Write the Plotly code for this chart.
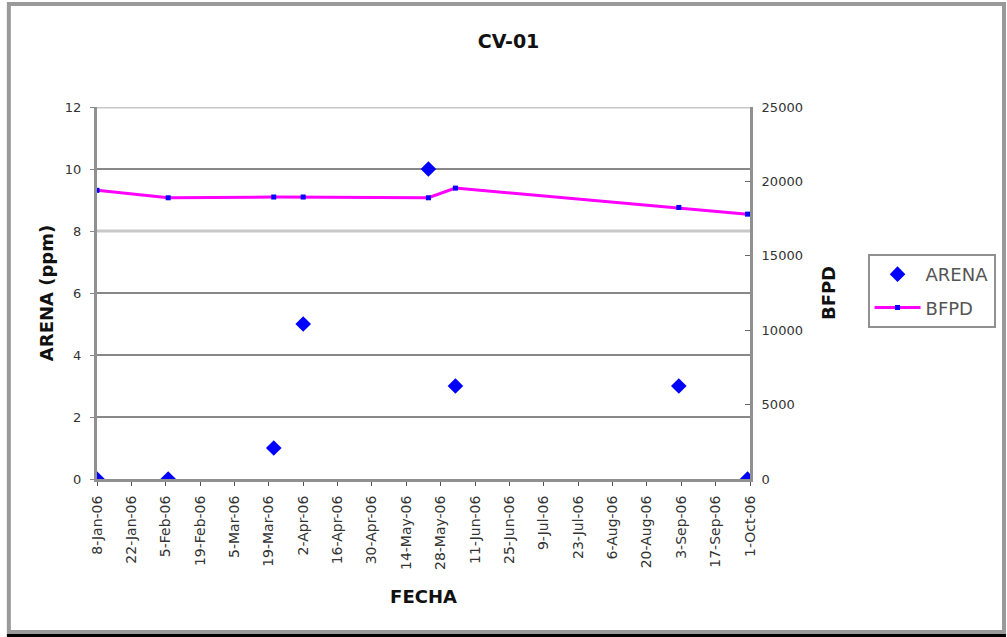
import plotly.graph_objects as go
import pandas as pd

fechas = ["2006-01-08", "2006-02-06", "2006-03-21", "2006-04-02",
          "2006-05-23", "2006-06-03", "2006-09-02", "2006-09-30"]
arena = [0, 0, 1, 5, 10, 3, 3, 0]
bfpd = [19400, 18900, 18950, 18950, 18900, 19550, 18250, 17800]

tick_dates = pd.date_range("2006-01-08", "2006-10-01", freq="14D")
tick_text = [f"{d.day}-{d.strftime('%b')}-06" for d in tick_dates]

font = "DejaVu Sans, sans-serif"
title_font = dict(family=font, size=18, color="#111", weight="bold")

fig = go.Figure()
fig.add_trace(go.Scatter(
    x=fechas, y=arena, name="ARENA", mode="markers", legendgroup="a",
    marker=dict(symbol="diamond", size=12, color="#0000ff"),
))
fig.add_trace(go.Scatter(
    x=fechas, y=bfpd, name="BFPD", mode="lines+markers", yaxis="y2",
    legendgroup="b",
    line=dict(color="#ff00ff", width=3),
    marker=dict(symbol="square", size=5, color="#0000ff"),
))

fig.update_layout(
    width=1007, height=637,
    margin=dict(l=97, r=255, t=107, b=158),
    paper_bgcolor="white", plot_bgcolor="white",
    font=dict(family=font, color="#222"),
    title=dict(text="CV-01", x=0.505, xanchor="center", y=0.935,
               yanchor="middle",
               font=dict(family=font, size=19, color="#111", weight="bold")),
    xaxis=dict(
        type="date", range=["2006-01-08", "2006-10-01"],
        tickvals=tick_dates, ticktext=tick_text, tickangle=-90,
        tickfont=dict(family=font, size=14, color="#333"),
        showgrid=False, showline=True, linecolor="#909090", linewidth=3,
        ticks="outside", ticklen=4, tickcolor="#505050",
        ticklabelstandoff=4,
        title=dict(text="FECHA", font=title_font, standoff=22),
    ),
    yaxis=dict(
        range=[0, 12], dtick=2,
        tickfont=dict(family=font, size=13, color="#333"),
        showgrid=True, gridcolor="#888888", gridwidth=2,
        showline=True, linecolor="#909090", linewidth=3,
        ticks="outside", ticklen=4, tickcolor="#888",
        ticklabelstandoff=6, zeroline=False,
        title=dict(text="ARENA (ppm)", font=title_font, standoff=7),
    ),
    yaxis2=dict(
        range=[0, 25000], dtick=5000, tickformat="d",
        overlaying="y", side="right",
        tickfont=dict(family=font, size=13, color="#333"), showgrid=False,
        showline=True, linecolor="#909090", linewidth=3,
        ticks="inside", ticklen=5, tickcolor="#666", zeroline=False,
        ticklabelstandoff=6,
        title=dict(text="BFPD", font=title_font, standoff=21),
    ),
    legend=dict(
        x=1.18, y=0.605, xanchor="left", yanchor="top",
        bordercolor="#909090", borderwidth=2, bgcolor="white",
        font=dict(family=font, size=18, color="#555"),
        itemwidth=46,
        traceorder="grouped", tracegroupgap=7,
    ),
    showlegend=True,
)

# lighter grid lines at 8 and 12 as in the original
for v in (8, 12):
    fig.add_shape(type="line", xref="paper", x0=0, x1=1, yref="y", y0=v, y1=v,
                  line=dict(color="#c8c8c8", width=3), layer="above")
# outer chart frame
fig.add_shape(type="rect", xref="paper", yref="paper",
              x0=-0.135, x1=1.389, y0=-0.411, y1=1.277,
              line=dict(color="#9a9a9a", width=4))
fig.add_shape(type="line", xref="paper", yref="paper",
              x0=-0.138, x1=1.392, y0=-0.421, y1=-0.421,
              line=dict(color="#000000", width=3))

fig.write_html("out.html")
